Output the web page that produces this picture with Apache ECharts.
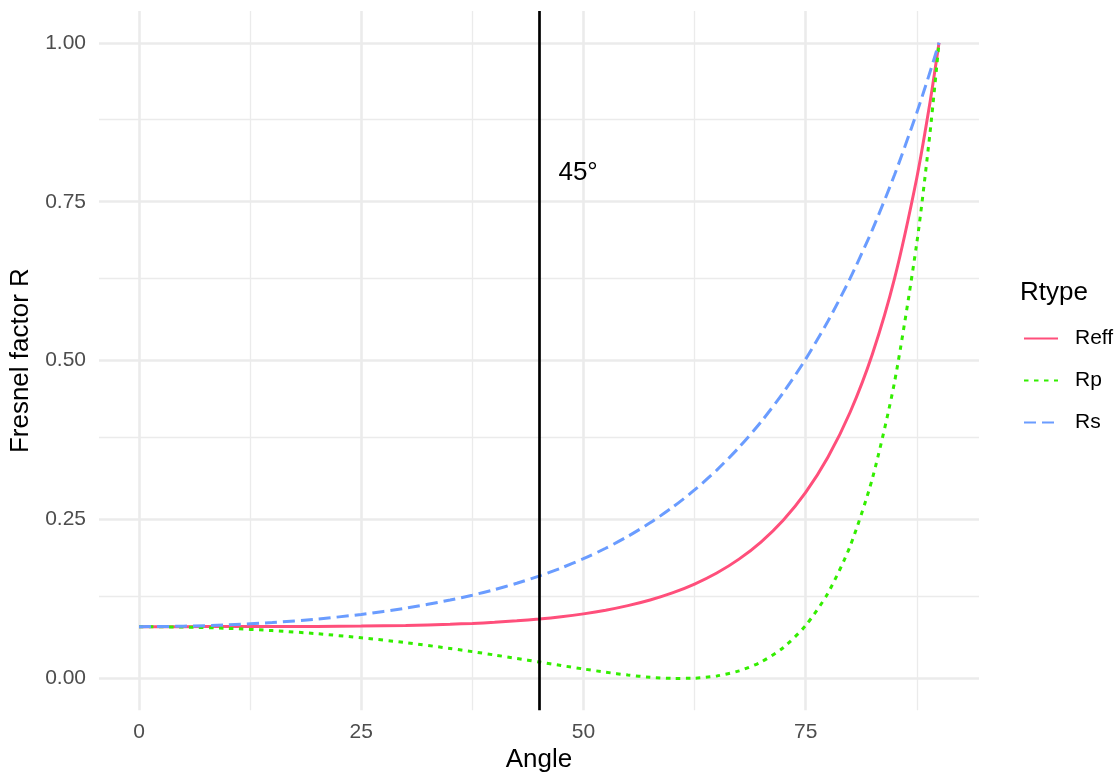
<!DOCTYPE html>
<html>
<head>
<meta charset="utf-8">
<script src="https://cdn.jsdelivr.net/npm/echarts@6/dist/echarts.min.js"></script>
<style>
html,body{margin:0;padding:0;background:#fff;}
#chart{width:1120px;height:773px;}
</style>
</head>
<body>
<div id="chart"></div>
<script>
// ---- data ----
const angle = [0,5,10,15,20,25,30,35,37.5,40,42.5,45,47.5,50,52.5,55,57.5,60,62.5,65,67.5,70,72.5,75,77.5,80,82.5,85,87.5,89,90];
const reff  = [0.0816,0.0816,0.0817,0.0817,0.0820,0.0825,0.0835,0.0853,0.0867,0.0884,0.0907,0.0935,0.0971,0.1017,0.1074,0.1146,0.1235,0.1346,0.1486,0.1660,0.1878,0.2151,0.2494,0.2928,0.3481,0.4188,0.5101,0.6294,0.7874,0.9071,1.0];
const rp    = [0.0816,0.0809,0.0789,0.0754,0.0705,0.0641,0.0564,0.0473,0.0423,0.0370,0.0315,0.0260,0.0204,0.0150,0.0099,0.0055,0.0020,0.0002,0.0005,0.0040,0.0120,0.0261,0.0488,0.0833,0.1342,0.2081,0.3143,0.4665,0.6848,0.8597,1.0];
const rs    = [0.0816,0.0823,0.0844,0.0881,0.0935,0.1008,0.1106,0.1234,0.1311,0.1399,0.1498,0.1611,0.1739,0.1884,0.2049,0.2236,0.2449,0.2691,0.2966,0.3279,0.3635,0.4040,0.4501,0.5024,0.5619,0.6294,0.7058,0.7923,0.8900,0.9544,1.0];
const seriesNames = ['Reff','Rp','Rs'];
const xMajorTicks = [0,25,50,75];
const xMinorTicks = [12.5,37.5,62.5,87.5];
const yMajorTicks = [0,0.25,0.5,0.75,1.0];
const yMinorTicks = [0.125,0.375,0.625,0.875];
const vlineAt = 45;
const vlineLabel = '45°';
const vlineLabelPos = [49.4, 0.795];

const FONT = "'Liberation Sans', Arial, Helvetica, sans-serif";
const colors = ['#FF4F7B','#33EE00','#6A9CFF'];
const dashes = ['solid',[4.5,5.5],[12,6]];

const gridLines = [];
xMinorTicks.forEach(v=>gridLines.push({xAxis:v, lineStyle:{color:'#EBEBEB',width:1.3,type:'solid'}}));
yMinorTicks.forEach(v=>gridLines.push({yAxis:v, lineStyle:{color:'#EBEBEB',width:1.3,type:'solid'}}));
xMajorTicks.forEach(v=>gridLines.push({xAxis:v, lineStyle:{color:'#EBEBEB',width:2.6,type:'solid'}}));
yMajorTicks.forEach(v=>gridLines.push({yAxis:v, lineStyle:{color:'#EBEBEB',width:2.6,type:'solid'}}));

const values = [reff, rp, rs];
const dataSeries = seriesNames.map((nm,k)=>({
  name: nm,
  type: 'line',
  z: 3,
  symbol: 'none',
  smooth: 0.25,
  data: angle.map((a,i)=>[a, values[k][i]]),
  lineStyle: {color: colors[k], width: 3, type: dashes[k]},
  itemStyle: {color: colors[k]},
  emphasis: {disabled: true}
}));

const chart = echarts.init(document.getElementById('chart'), null, {renderer:'canvas'});
chart.setOption({
  animation: false,
  backgroundColor: '#fff',
  textStyle: {fontFamily: FONT},
  grid: {left: 99, right: 141, top: 11, bottom: 62.7, containLabel: false, outerBoundsMode: 'none'},
  title: {
    text: 'Rtype', left: 1020, top: 280, padding: 0,
    textStyle: {fontFamily: FONT, fontSize: 26, fontWeight: 'normal', color: '#000'}
  },
  legend: {
    data: seriesNames,
    orient: 'vertical',
    left: 1023, top: 328,
    padding: 0,
    itemWidth: 34, itemHeight: 20, itemGap: 21,
    itemStyle: {opacity: 0},
    textStyle: {fontFamily: FONT, fontSize: 21, color: '#000', padding: [0,0,0,12]}
  },
  xAxis: {
    type: 'value', min: -4.5, max: 94.5,
    name: 'Angle', nameLocation: 'middle', nameGap: 35,
    nameTextStyle: {fontFamily: FONT, fontSize: 26, color: '#000'},
    axisLine: {show: false}, axisTick: {show: false}, splitLine: {show: false},
    axisLabel: {customValues: xMajorTicks, margin: 11, fontSize: 21, color: '#4D4D4D', fontFamily: FONT,
      formatter: v => String(v)}
  },
  yAxis: {
    type: 'value', min: -0.05, max: 1.05,
    name: 'Fresnel factor R', nameLocation: 'middle', nameGap: 60,
    nameTextStyle: {fontFamily: FONT, fontSize: 26, color: '#000'},
    axisLine: {show: false}, axisTick: {show: false}, splitLine: {show: false},
    axisLabel: {customValues: yMajorTicks, margin: 13, fontSize: 21, color: '#4D4D4D', fontFamily: FONT,
      formatter: v => v.toFixed(2)}
  },
  series: [
    {
      type: 'line', z: 0, silent: true, data: [], symbol: 'none',
      markLine: {z: 0, silent: true, symbol: ['none','none'], label: {show: false}, animation: false, data: gridLines}
    },
    ...dataSeries,
    {
      type: 'line', z: 4, silent: true, data: [], symbol: 'none',
      markLine: {z: 4, silent: true, symbol: ['none','none'], label: {show: false}, animation: false,
        data: [{xAxis: vlineAt, lineStyle: {color: '#000', width: 2.7, type: 'solid'}}]},
      markPoint: {z: 5, silent: true, animation: false, symbol: 'circle', symbolSize: 0,
        data: [{coord: vlineLabelPos, label: {show: true, position: 'inside', formatter: vlineLabel,
          fontSize: 26, color: '#000', fontFamily: FONT}}]}
    }
  ]
});
</script>
</body>
</html>
